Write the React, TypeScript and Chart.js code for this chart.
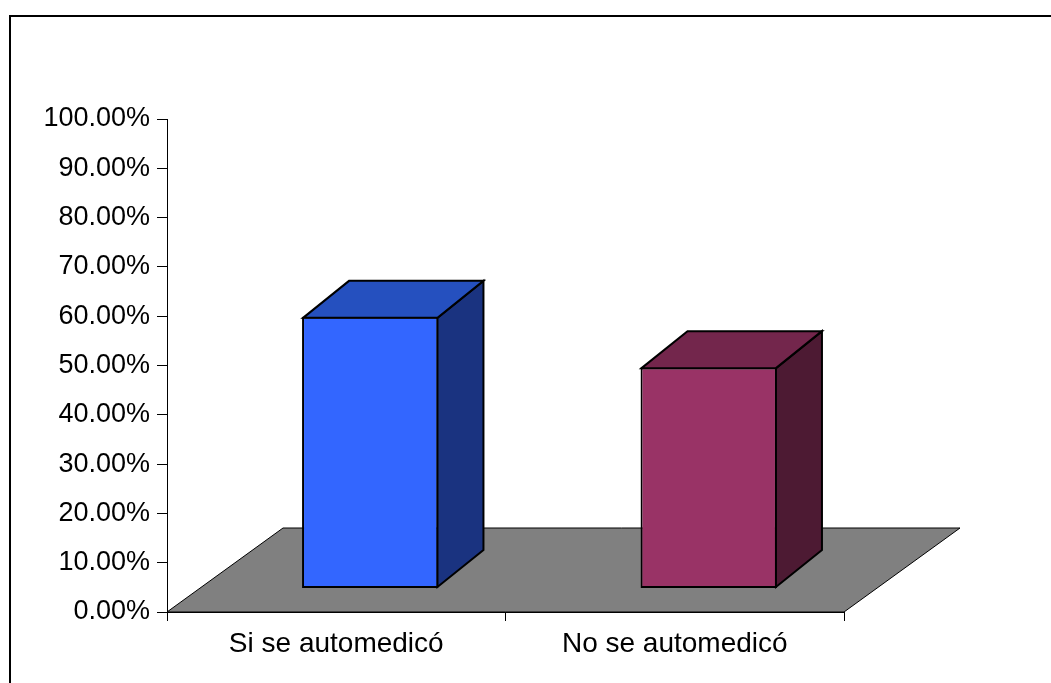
import React, { useEffect, useRef } from "react";
import { Chart, registerables } from "chart.js";

Chart.register(...registerables);

// Categories and percentage values
const categories: string[] = ["Si se automedicó", "No se automedicó"];
const percentages: number[] = [55.1, 44.9];

// Value axis ticks (percent)
const yMin = 0;
const yMax = 100;
const yStep = 10;

// Face colours for each column: front, top, side
const barFront = ["#3366FF", "#993366"];
const barTop = ["#2550BF", "#73264C"];
const barSide = ["#1A3380", "#4D1A33"];

// 3-D geometry (pixels)
const FLOOR_DX = 116;
const FLOOR_DY = 84;
const BAR_SHIFT_X = 34;
const BAR_LIFT = 23.5;
const DEPTH_DX = 46;
const DEPTH_DY = 37;

const FONT = "'Liberation Sans', Arial, sans-serif";

const threeD = {
  id: "threeD",
  beforeDatasetsDraw(chart: any) {
    const { ctx, chartArea } = chart;
    const { left, right, bottom } = chartArea;
    // grey floor
    ctx.save();
    ctx.beginPath();
    ctx.moveTo(left, bottom);
    ctx.lineTo(right, bottom);
    ctx.lineTo(right + FLOOR_DX, bottom - FLOOR_DY);
    ctx.lineTo(left + FLOOR_DX, bottom - FLOOR_DY);
    ctx.closePath();
    ctx.fillStyle = "#808080";
    ctx.fill();
    ctx.lineWidth = 1;
    ctx.strokeStyle = "#000";
    ctx.stroke();
    ctx.restore();
    // columns stand in the middle of the floor depth
    ctx.save();
    ctx.translate(BAR_SHIFT_X, -BAR_LIFT);
  },
  afterDatasetsDraw(chart: any) {
    const { ctx } = chart;
    const meta = chart.getDatasetMeta(0);
    meta.data.forEach((bar: any, i: number) => {
      const { x, y, base, width } = bar.getProps(["x", "y", "base", "width"], true);
      const L = x - width / 2 + 1;
      const R = x + width / 2 - 1;
      const T = y + 1;
      const B = base - 1;
      ctx.lineWidth = 2;
      ctx.lineJoin = "miter";
      ctx.strokeStyle = "#000";
      // side face
      ctx.beginPath();
      ctx.moveTo(R, T);
      ctx.lineTo(R + DEPTH_DX, T - DEPTH_DY);
      ctx.lineTo(R + DEPTH_DX, B - DEPTH_DY);
      ctx.lineTo(R, B);
      ctx.closePath();
      ctx.fillStyle = barSide[i];
      ctx.fill();
      ctx.stroke();
      // top face
      ctx.beginPath();
      ctx.moveTo(L, T);
      ctx.lineTo(L + DEPTH_DX, T - DEPTH_DY);
      ctx.lineTo(R + DEPTH_DX, T - DEPTH_DY);
      ctx.lineTo(R, T);
      ctx.closePath();
      ctx.fillStyle = barTop[i];
      ctx.fill();
      ctx.stroke();
    });
    ctx.restore();
  },
};

export default function App() {
  const canvasRef = useRef<HTMLCanvasElement | null>(null);

  useEffect(() => {
    if (!canvasRef.current) return;
    const chart = new Chart(canvasRef.current, {
      type: "bar",
      data: {
        labels: categories,
        datasets: [
          {
            data: percentages,
            backgroundColor: barFront,
            borderColor: "#000",
            borderWidth: 2,
            borderSkipped: false,
            barPercentage: 0.403,
            categoryPercentage: 1,
          },
        ],
      },
      options: {
        responsive: false,
        animation: false,
        events: [],
        layout: { padding: { top: 119, right: 207, bottom: 0, left: 0 } },
        plugins: { legend: { display: false }, tooltip: { enabled: false } },
        scales: {
          x: {
            type: "category",
            offset: true,
            grid: {
              offset: true,
              drawOnChartArea: false,
              drawTicks: true,
              tickLength: 9,
              color: "#000",
              lineWidth: 1,
            },
            border: { color: "#000", width: 1 },
            ticks: {
              font: { family: FONT, size: 28 },
              color: "#000",
              padding: 6,
              maxRotation: 0,
              autoSkip: false,
            },
            afterFit: (s: any) => {
              s.height = 71;
            },
          },
          y: {
            min: yMin,
            max: yMax,
            grid: {
              drawOnChartArea: false,
              drawTicks: true,
              tickLength: 10,
              color: "#000",
              lineWidth: 1,
            },
            border: { color: "#000", width: 1 },
            ticks: {
              stepSize: yStep,
              font: { family: FONT, size: 27 },
              color: "#000",
              padding: 7,
              callback: (v: any) => Number(v).toFixed(2) + "%",
            },
            afterFit: (s: any) => {
              s.width = 167;
            },
          },
        },
      },
      plugins: [threeD],
    });
    return () => chart.destroy();
  }, []);

  return (
    <div
      style={{
        position: "fixed",
        left: 0,
        top: 0,
        width: 1051,
        height: 683,
        overflow: "hidden",
        background: "#fff",
      }}
    >
      <div
        style={{
          position: "absolute",
          left: 9,
          top: 15,
          width: 2000,
          height: 2000,
          border: "2px solid #000",
          boxSizing: "border-box",
        }}
      />
      <canvas
        ref={canvasRef}
        width={1051}
        height={683}
        style={{ position: "absolute", left: 0, top: 0, width: 1051, height: 683 }}
      />
    </div>
  );
}
